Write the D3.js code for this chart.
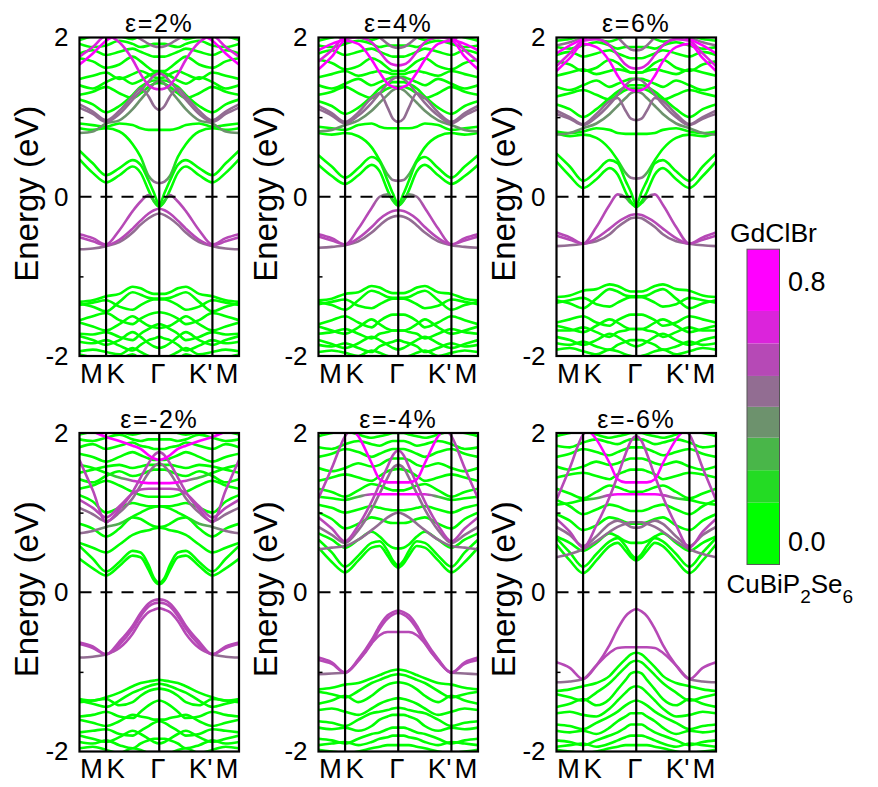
<!DOCTYPE html>
<html>
<head>
<meta charset="utf-8">
<script src="https://cdn.jsdelivr.net/npm/d3@7"></script>
<style>
  body { margin: 0; background: #fff; }
  text { font-family: "Liberation Sans", Arial, sans-serif; fill: #000; }
</style>
</head>
<body>
<svg id="chart" width="878" height="787"></svg>
<script>
// Path coordinate along M → K → Γ (M = 0, K = 1, Γ = 3).
// The Γ → K' → M leg is the time-reversed copy, E(k) = E(-k).
const kPath = [0, 0.5, 1, 1.5, 2, 2.3, 2.6, 2.8, 3];
const kTicks = [0, 1, 3, 5, 6];
const kLabels = ["M", "K", "Γ", "K'", "M"];
const energyTicks = [-2, 0, 2];
const minorTicks = [-1, 1];
const strainTitles = ["ε=2%", "ε=4%", "ε=6%", "ε=-2%", "ε=-4%", "ε=-6%"];

// GdClBr weight levels of the colour bar
const weightSteps = [0.12, 0.22, 0.32, 0.415, 0.51, 0.61, 0.71];
const weightColors = ["#00ff00", "#24db24", "#49b649", "#6d926d", "#926d92", "#b649b6", "#db24db", "#ff00ff"];
const weightTicks = [0.8, 0.0];
const weightRange = [-0.07, 0.9];

// Bands per strain: w = GdClBr weight (single value or one per k-point), e = energy (eV) at kPath
const strain2 = [
  {w: [0.55,0.55,0.55,0.55,0.55,0.55,0.5,0.2,0.05], e: [-0.47,-0.52,-0.60,-0.42,-0.18,-0.06,0.02,-0.05,-0.13]},
  {w: 0.55, e: [-0.51,-0.56,-0.61,-0.54,-0.40,-0.30,-0.21,-0.17,-0.15]},
  {w: 0.45, e: [-0.66,-0.65,-0.62,-0.57,-0.45,-0.35,-0.27,-0.23,-0.21]},
  {w: 0.05, e: [0.47,0.30,0.18,0.27,0.38,0.30,0.08,-0.06,-0.12]},
  {w: 0.05, e: [0.58,0.42,0.27,0.36,0.46,0.40,0.20,0.05,-0.10]},
  {w: [0.05,0.05,0.05,0.05,0.05,0.1,0.3,0.45,0.45], e: [0.86,0.84,0.86,0.82,0.66,0.50,0.26,0.19,0.17]},
  {w: 0.05, e: [0.92,0.90,0.88,0.92,0.90,0.86,0.84,0.84,0.84]},
  {w: 0.35, e: [0.80,0.82,0.92,0.96,1.10,1.22,1.34,1.42,1.46]},
  {w: [0.45,0.45,0.45,0.45,0.45,0.45,0.5,0.55,0.55], e: [1.12,1.04,0.94,1.04,1.22,1.33,1.45,1.52,1.55]},
  {w: 0.45, e: [1.16,1.07,0.96,1.08,1.26,1.36,1.26,1.14,1.09]},
  {w: 0.05, e: [1.22,1.16,1.06,1.14,1.28,1.38,1.44,1.46,1.46]},
  {w: 0.05, e: [1.28,1.32,1.38,1.30,1.24,1.30,1.38,1.42,1.43]},
  {w: 0.05, e: [1.40,1.36,1.44,1.50,1.42,1.46,1.52,1.55,1.56]},
  {w: 0.05, e: [1.48,1.52,1.56,1.48,1.54,1.58,1.54,1.50,1.49]},
  {w: 0.05, e: [1.74,1.70,1.62,1.66,1.76,1.70,1.62,1.58,1.58]},
  {w: 0.05, e: [1.80,1.84,1.78,1.82,1.86,1.82,1.78,1.76,1.76]},
  {w: 0.05, e: [1.92,1.88,1.90,1.96,1.92,1.88,1.90,1.92,1.92]},
  {w: 0.05, e: [1.97,2.02,2.06,2.02,1.98,2.02,2.06,2.08,2.08]},
  {w: 0.8,  e: [1.66,1.80,1.96,2.05,2.15,2.20,2.20,2.20,2.20]},
  {w: 0.7,  e: [1.76,1.88,2.02,1.94,1.72,1.54,1.40,1.36,1.35]},
  {w: 0.45, e: [2.20,2.12,2.05,2.02,2.02,1.98,1.92,1.89,1.88]},
  {w: 0.05, e: [-1.32,-1.30,-1.25,-1.22,-1.13,-1.15,-1.20,-1.22,-1.22]},
  {w: 0.05, e: [-1.34,-1.38,-1.44,-1.32,-1.20,-1.23,-1.27,-1.28,-1.28]},
  {w: 0.05, e: [-1.36,-1.33,-1.30,-1.38,-1.42,-1.36,-1.31,-1.29,-1.29]},
  {w: 0.05, e: [-1.55,-1.50,-1.46,-1.55,-1.60,-1.53,-1.48,-1.46,-1.45]},
  {w: 0.05, e: [-1.58,-1.63,-1.68,-1.60,-1.50,-1.56,-1.62,-1.64,-1.65]},
  {w: 0.05, e: [-1.72,-1.73,-1.70,-1.76,-1.80,-1.72,-1.66,-1.62,-1.60]},
  {w: 0.05, e: [-1.75,-1.80,-1.86,-1.80,-1.70,-1.76,-1.84,-1.88,-1.90]},
  {w: 0.05, e: [-1.82,-1.84,-1.80,-1.87,-1.93,-1.86,-1.80,-1.78,-1.76]},
  {w: 0.05, e: [-1.94,-1.92,-1.95,-1.98,-1.90,-1.95,-2.00,-2.02,-2.04]},
  {w: 0.05, e: [-1.98,-2.02,-2.06,-2.04,-1.98,-2.04,-2.10,-2.12,-2.12]}
];

const strain4 = [
  {w: [0.55,0.55,0.55,0.55,0.55,0.5,0.4,0.15,0.05], e: [-0.47,-0.52,-0.60,-0.40,-0.14,0.00,0.03,-0.04,-0.11]},
  {w: 0.55, e: [-0.50,-0.55,-0.60,-0.52,-0.38,-0.28,-0.21,-0.18,-0.17]},
  {w: 0.45, e: [-0.64,-0.63,-0.61,-0.56,-0.45,-0.36,-0.28,-0.25,-0.24]},
  {w: 0.05, e: [0.40,0.26,0.16,0.27,0.40,0.32,0.08,-0.05,-0.11]},
  {w: 0.05, e: [0.52,0.38,0.24,0.36,0.50,0.44,0.20,0.04,-0.09]},
  {w: [0.05,0.05,0.05,0.05,0.05,0.1,0.3,0.45,0.45], e: [0.80,0.78,0.80,0.76,0.62,0.46,0.28,0.21,0.20]},
  {w: 0.05, e: [0.88,0.86,0.84,0.90,0.92,0.88,0.86,0.86,0.86]},
  {w: 0.35, e: [0.82,0.84,0.90,0.96,1.08,1.18,1.28,1.34,1.36]},
  {w: 0.45, e: [1.10,1.02,0.92,1.02,1.18,1.30,1.42,1.48,1.50]},
  {w: 0.45, e: [1.14,1.05,0.94,1.06,1.24,1.30,1.12,0.98,0.94]},
  {w: 0.05, e: [1.20,1.14,1.04,1.12,1.26,1.36,1.42,1.44,1.44]},
  {w: 0.05, e: [1.28,1.32,1.38,1.30,1.24,1.30,1.36,1.38,1.38]},
  {w: 0.05, e: [1.40,1.36,1.42,1.48,1.40,1.44,1.48,1.50,1.50]},
  {w: 0.05, e: [1.50,1.54,1.58,1.52,1.56,1.58,1.56,1.54,1.54]},
  {w: 0.05, e: [1.72,1.68,1.60,1.64,1.74,1.70,1.62,1.58,1.58]},
  {w: 0.05, e: [1.80,1.84,1.78,1.82,1.86,1.82,1.78,1.76,1.76]},
  {w: 0.05, e: [1.90,1.88,1.92,1.96,1.92,1.88,1.90,1.90,1.90]},
  {w: 0.05, e: [1.96,2.00,2.04,2.00,1.97,2.00,2.04,2.06,2.06]},
  {w: 0.8,  e: [1.60,1.76,1.96,1.92,1.72,1.56,1.42,1.38,1.36]},
  {w: 0.7,  e: [1.70,1.84,2.00,2.00,1.94,1.82,1.70,1.66,1.65]},
  {w: 0.8,  e: [1.84,1.92,1.98,2.06,2.10,2.10,2.10,2.10,2.10]},
  {w: 0.45, e: [2.10,2.05,1.98,2.02,2.06,2.00,1.92,1.88,1.87]},
  {w: 0.05, e: [-1.30,-1.28,-1.22,-1.20,-1.12,-1.14,-1.19,-1.21,-1.21]},
  {w: 0.05, e: [-1.32,-1.36,-1.42,-1.30,-1.18,-1.21,-1.26,-1.27,-1.27]},
  {w: 0.05, e: [-1.35,-1.32,-1.29,-1.37,-1.40,-1.35,-1.30,-1.28,-1.28]},
  {w: 0.05, e: [-1.60,-1.55,-1.50,-1.58,-1.64,-1.56,-1.50,-1.48,-1.48]},
  {w: 0.05, e: [-1.63,-1.68,-1.72,-1.64,-1.54,-1.60,-1.66,-1.68,-1.68]},
  {w: 0.05, e: [-1.72,-1.70,-1.66,-1.72,-1.78,-1.72,-1.70,-1.68,-1.68]},
  {w: 0.05, e: [-1.80,-1.85,-1.90,-1.84,-1.76,-1.80,-1.86,-1.90,-1.92]},
  {w: 0.05, e: [-1.86,-1.88,-1.84,-1.90,-1.95,-1.88,-1.84,-1.82,-1.80]},
  {w: 0.05, e: [-1.95,-1.93,-1.96,-2.00,-1.93,-1.96,-2.00,-2.02,-2.04]}
];

const strain6 = [
  {w: [0.55,0.55,0.55,0.55,0.55,0.55,0.35,0.1,0.05], e: [-0.45,-0.51,-0.59,-0.38,-0.10,0.03,-0.01,-0.08,-0.13]},
  {w: 0.55, e: [-0.49,-0.54,-0.59,-0.52,-0.40,-0.32,-0.26,-0.23,-0.22]},
  {w: 0.45, e: [-0.62,-0.61,-0.59,-0.56,-0.47,-0.38,-0.31,-0.27,-0.26]},
  {w: 0.05, e: [0.44,0.26,0.11,0.22,0.36,0.28,0.06,-0.06,-0.12]},
  {w: 0.05, e: [0.54,0.38,0.20,0.32,0.46,0.42,0.20,0.06,-0.10]},
  {w: [0.05,0.05,0.05,0.05,0.05,0.1,0.3,0.45,0.45], e: [0.80,0.76,0.78,0.74,0.60,0.46,0.30,0.24,0.23]},
  {w: 0.05, e: [0.82,0.80,0.82,0.86,0.84,0.80,0.79,0.79,0.79]},
  {w: 0.35, e: [0.78,0.80,0.86,0.92,1.04,1.14,1.24,1.30,1.32]},
  {w: 0.45, e: [1.04,0.98,0.90,1.00,1.16,1.28,1.40,1.46,1.48]},
  {w: 0.45, e: [1.08,1.00,0.91,1.04,1.20,1.24,1.08,0.98,0.96]},
  {w: 0.05, e: [1.16,1.10,1.00,1.10,1.24,1.32,1.38,1.40,1.40]},
  {w: 0.05, e: [1.26,1.30,1.34,1.28,1.22,1.28,1.34,1.36,1.36]},
  {w: 0.05, e: [1.38,1.34,1.40,1.46,1.38,1.42,1.46,1.48,1.48]},
  {w: 0.05, e: [1.52,1.56,1.60,1.54,1.58,1.60,1.58,1.56,1.56]},
  {w: 0.05, e: [1.70,1.66,1.58,1.62,1.72,1.68,1.60,1.56,1.56]},
  {w: 0.05, e: [1.78,1.82,1.76,1.80,1.84,1.80,1.76,1.74,1.74]},
  {w: 0.05, e: [1.88,1.86,1.90,1.94,1.90,1.86,1.88,1.88,1.88]},
  {w: 0.05, e: [1.96,1.98,2.02,1.98,1.95,1.98,2.02,2.04,2.04]},
  {w: 0.8,  e: [1.58,1.74,1.92,1.88,1.70,1.52,1.38,1.34,1.33]},
  {w: 0.7,  e: [1.64,1.80,1.96,1.98,1.90,1.78,1.66,1.62,1.61]},
  {w: 0.8,  e: [1.80,1.90,1.98,2.04,2.08,2.10,2.10,2.10,2.10]},
  {w: 0.45, e: [1.90,1.94,2.00,2.04,2.06,2.00,1.90,1.85,1.84]},
  {w: 0.05, e: [-1.26,-1.24,-1.18,-1.16,-1.10,-1.12,-1.17,-1.19,-1.19]},
  {w: 0.05, e: [-1.30,-1.34,-1.40,-1.28,-1.16,-1.19,-1.24,-1.25,-1.25]},
  {w: 0.05, e: [-1.33,-1.30,-1.27,-1.35,-1.38,-1.33,-1.28,-1.26,-1.26]},
  {w: 0.05, e: [-1.58,-1.54,-1.50,-1.58,-1.62,-1.55,-1.50,-1.48,-1.48]},
  {w: 0.05, e: [-1.62,-1.66,-1.70,-1.62,-1.54,-1.58,-1.64,-1.66,-1.66]},
  {w: 0.05, e: [-1.68,-1.68,-1.64,-1.70,-1.76,-1.70,-1.68,-1.66,-1.66]},
  {w: 0.05, e: [-1.76,-1.80,-1.86,-1.80,-1.72,-1.76,-1.82,-1.86,-1.88]},
  {w: 0.05, e: [-1.84,-1.86,-1.82,-1.88,-1.92,-1.86,-1.82,-1.80,-1.80]},
  {w: 0.05, e: [-1.92,-1.90,-1.94,-1.98,-1.92,-1.94,-1.98,-2.00,-2.02]}
];

const strainM2 = [
  {w: 0.55, e: [-0.63,-0.68,-0.78,-0.62,-0.42,-0.26,-0.14,-0.10,-0.09]},
  {w: 0.55, e: [-0.65,-0.70,-0.78,-0.66,-0.46,-0.30,-0.18,-0.14,-0.13]},
  {w: [0.45,0.45,0.5,0.55,0.55,0.55,0.55,0.55,0.55], e: [-0.82,-0.81,-0.78,-0.70,-0.52,-0.36,-0.25,-0.22,-0.20]},
  {w: 0.05, e: [0.42,0.30,0.21,0.33,0.46,0.44,0.28,0.15,0.10]},
  {w: 0.05, e: [0.58,0.42,0.26,0.38,0.52,0.50,0.34,0.18,0.12]},
  {w: 0.05, e: [0.62,0.56,0.50,0.60,0.72,0.76,0.78,0.80,0.81]},
  {w: 0.05, e: [0.86,0.80,0.70,0.80,0.94,0.92,0.86,0.83,0.82]},
  {w: [0.45,0.45,0.4,0.3,0.1,0.05,0.05,0.05,0.05], e: [0.74,0.77,0.82,0.86,0.95,1.00,1.05,1.07,1.08]},
  {w: 0.55, e: [1.66,1.28,0.88,1.04,1.26,1.44,1.62,1.72,1.76]},
  {w: 0.45, e: [1.06,0.98,0.89,1.00,1.18,1.34,1.50,1.58,1.62]},
  {w: 0.55, e: [1.16,1.06,0.94,1.08,1.24,1.29,1.30,1.30,1.30]},
  {w: [0.05,0.05,0.05,0.3,0.6,0.8,0.8,0.8,0.8], e: [1.60,1.56,1.50,1.44,1.40,1.38,1.37,1.37,1.37]},
  {w: 0.75, e: [2.10,2.02,1.95,1.90,1.84,1.80,1.72,1.68,1.66]},
  {w: 0.05, e: [1.22,1.14,1.00,1.06,1.12,1.10,1.08,1.08,1.08]},
  {w: 0.05, e: [1.30,1.34,1.40,1.34,1.26,1.22,1.20,1.20,1.20]},
  {w: 0.05, e: [1.42,1.38,1.46,1.52,1.46,1.48,1.52,1.54,1.54]},
  {w: 0.05, e: [1.50,1.54,1.58,1.60,1.56,1.58,1.60,1.60,1.60]},
  {w: 0.05, e: [1.74,1.70,1.64,1.70,1.76,1.72,1.68,1.66,1.66]},
  {w: 0.05, e: [1.82,1.86,1.80,1.84,1.88,1.84,1.82,1.80,1.80]},
  {w: 0.05, e: [1.92,1.90,1.94,1.98,1.92,1.90,1.92,1.92,1.92]},
  {w: 0.05, e: [1.98,2.02,2.06,2.02,1.98,2.00,2.04,2.06,2.06]},
  {w: 0.05, e: [-1.34,-1.36,-1.32,-1.26,-1.18,-1.14,-1.12,-1.11,-1.10]},
  {w: 0.05, e: [-1.36,-1.40,-1.44,-1.36,-1.26,-1.22,-1.18,-1.16,-1.15]},
  {w: 0.05, e: [-1.38,-1.36,-1.34,-1.42,-1.38,-1.30,-1.24,-1.22,-1.21]},
  {w: 0.05, e: [-1.56,-1.54,-1.50,-1.56,-1.58,-1.50,-1.42,-1.38,-1.36]},
  {w: 0.05, e: [-1.60,-1.64,-1.68,-1.62,-1.54,-1.56,-1.58,-1.60,-1.60]},
  {w: 0.05, e: [-1.76,-1.74,-1.72,-1.78,-1.80,-1.74,-1.68,-1.64,-1.62]},
  {w: 0.05, e: [-1.80,-1.84,-1.88,-1.82,-1.74,-1.78,-1.84,-1.88,-1.90]},
  {w: 0.05, e: [-1.88,-1.90,-1.86,-1.92,-1.96,-1.90,-1.86,-1.84,-1.84]},
  {w: 0.05, e: [-1.96,-1.94,-1.98,-2.02,-1.96,-1.98,-2.02,-2.04,-2.06]}
];

const strainM4 = [
  {w: 0.55, e: [-0.82,-0.88,-1.01,-0.84,-0.60,-0.42,-0.29,-0.25,-0.23]},
  {w: 0.55, e: [-0.85,-0.90,-1.01,-0.86,-0.64,-0.46,-0.33,-0.28,-0.26]},
  {w: [0.45,0.45,0.5,0.55,0.55,0.55,0.55,0.55,0.55], e: [-1.03,-1.02,-1.01,-0.86,-0.64,-0.54,-0.50,-0.50,-0.50]},
  {w: 0.05, e: [0.56,0.38,0.25,0.40,0.56,0.58,0.46,0.36,0.31]},
  {w: 0.05, e: [0.66,0.50,0.32,0.46,0.62,0.64,0.52,0.40,0.34]},
  {w: 0.05, e: [0.74,0.66,0.56,0.66,0.76,0.70,0.60,0.56,0.55]},
  {w: 0.45, e: [0.54,0.56,0.58,0.66,0.78,0.86,0.94,0.98,1.00]},
  {w: 0.55, e: [0.94,0.80,0.64,0.84,1.14,1.36,1.58,1.72,1.78]},
  {w: 0.45, e: [0.82,0.72,0.62,0.78,1.04,1.24,1.44,1.56,1.60]},
  {w: 0.55, e: [1.18,1.56,1.96,2.10,2.20,2.20,2.20,2.20,2.20]},
  {w: 0.8,  e: [2.30,2.20,2.10,1.96,1.62,1.42,1.38,1.38,1.38]},
  {w: [0.05,0.05,0.05,0.3,0.7,0.8,0.8,0.8,0.8], e: [1.20,1.18,1.16,1.20,1.23,1.23,1.23,1.23,1.23]},
  {w: 0.05, e: [1.00,0.92,0.80,0.86,0.94,0.92,0.88,0.87,0.87]},
  {w: 0.05, e: [1.10,1.06,1.00,1.04,1.08,1.06,1.04,1.03,1.03]},
  {w: 0.05, e: [1.30,1.26,1.20,1.28,1.36,1.34,1.30,1.28,1.28]},
  {w: 0.05, e: [1.40,1.44,1.48,1.44,1.40,1.46,1.52,1.54,1.55]},
  {w: 0.05, e: [1.56,1.52,1.56,1.62,1.58,1.60,1.66,1.68,1.68]},
  {w: 0.05, e: [1.70,1.74,1.80,1.76,1.70,1.74,1.78,1.80,1.80]},
  {w: 0.05, e: [1.82,1.80,1.86,1.90,1.86,1.84,1.88,1.90,1.90]},
  {w: 0.05, e: [1.96,2.00,2.02,1.98,1.94,1.96,1.98,2.00,2.00]},
  {w: 0.05, e: [-1.22,-1.20,-1.16,-1.14,-1.08,-1.04,-1.00,-0.98,-0.97]},
  {w: 0.05, e: [-1.25,-1.28,-1.32,-1.24,-1.14,-1.10,-1.06,-1.04,-1.03]},
  {w: 0.05, e: [-1.40,-1.36,-1.30,-1.38,-1.30,-1.22,-1.16,-1.14,-1.13]},
  {w: 0.05, e: [-1.48,-1.46,-1.50,-1.54,-1.46,-1.40,-1.36,-1.34,-1.33]},
  {w: 0.05, e: [-1.62,-1.64,-1.68,-1.60,-1.52,-1.50,-1.48,-1.46,-1.45]},
  {w: 0.05, e: [-1.70,-1.72,-1.70,-1.74,-1.68,-1.60,-1.56,-1.54,-1.54]},
  {w: 0.05, e: [-1.84,-1.86,-1.90,-1.84,-1.78,-1.76,-1.72,-1.70,-1.70]},
  {w: 0.05, e: [-1.92,-1.90,-1.88,-1.92,-1.88,-1.84,-1.82,-1.80,-1.80]},
  {w: 0.05, e: [-1.98,-2.00,-2.02,-2.00,-1.96,-1.94,-1.92,-1.92,-1.92]}
];

const strainM6 = [
  {w: 0.55, e: [-0.88,-0.95,-1.09,-0.92,-0.66,-0.46,-0.30,-0.24,-0.21]},
  {w: [0.45,0.45,0.5,0.55,0.55,0.55,0.55,0.55,0.55], e: [-1.13,-1.12,-1.09,-0.92,-0.76,-0.70,-0.69,-0.69,-0.69]},
  {w: 0.05, e: [0.60,0.40,0.24,0.40,0.58,0.62,0.52,0.44,0.40]},
  {w: 0.05, e: [0.68,0.50,0.32,0.48,0.64,0.68,0.58,0.48,0.43]},
  {w: 0.05, e: [0.70,0.62,0.52,0.62,0.74,0.70,0.64,0.62,0.62]},
  {w: 0.45, e: [0.44,0.48,0.54,0.64,0.76,0.82,0.86,0.88,0.88]},
  {w: 0.55, e: [0.92,0.76,0.56,0.84,1.20,1.46,1.74,1.90,1.96]},
  {w: 0.45, e: [0.82,0.72,0.58,0.70,0.86,0.90,0.86,0.82,0.81]},
  {w: 0.55, e: [1.16,1.56,1.98,2.10,2.20,2.20,2.20,2.20,2.20]},
  {w: 0.8,  e: [2.30,2.20,2.10,1.92,1.62,1.42,1.38,1.38,1.38]},
  {w: [0.05,0.05,0.05,0.3,0.7,0.8,0.8,0.8,0.8], e: [1.10,1.12,1.16,1.18,1.22,1.23,1.23,1.23,1.23]},
  {w: 0.05, e: [0.98,0.90,0.78,0.84,0.94,0.92,0.88,0.86,0.86]},
  {w: 0.05, e: [1.16,1.08,0.98,1.04,1.10,1.08,1.04,1.02,1.02]},
  {w: 0.05, e: [1.30,1.24,1.18,1.26,1.34,1.32,1.28,1.26,1.26]},
  {w: 0.05, e: [1.44,1.48,1.50,1.46,1.42,1.48,1.52,1.54,1.54]},
  {w: 0.05, e: [1.58,1.54,1.58,1.64,1.60,1.62,1.66,1.68,1.68]},
  {w: 0.05, e: [1.70,1.74,1.80,1.76,1.72,1.76,1.80,1.82,1.82]},
  {w: 0.05, e: [1.84,1.82,1.88,1.92,1.88,1.86,1.90,1.92,1.92]},
  {w: 0.05, e: [1.96,2.00,2.02,1.98,1.94,1.96,1.98,2.00,2.00]},
  {w: 0.05, e: [-1.24,-1.22,-1.18,-1.14,-1.05,-0.94,-0.84,-0.78,-0.76]},
  {w: 0.05, e: [-1.28,-1.32,-1.36,-1.26,-1.14,-1.04,-0.94,-0.88,-0.86]},
  {w: 0.05, e: [-1.44,-1.40,-1.34,-1.42,-1.34,-1.22,-1.10,-1.02,-1.00]},
  {w: 0.05, e: [-1.52,-1.50,-1.54,-1.56,-1.46,-1.36,-1.26,-1.20,-1.18]},
  {w: 0.05, e: [-1.66,-1.68,-1.72,-1.64,-1.56,-1.50,-1.42,-1.38,-1.36]},
  {w: 0.05, e: [-1.74,-1.76,-1.74,-1.78,-1.70,-1.62,-1.56,-1.52,-1.52]},
  {w: 0.05, e: [-1.86,-1.88,-1.92,-1.86,-1.80,-1.76,-1.70,-1.66,-1.66]},
  {w: 0.05, e: [-1.94,-1.92,-1.90,-1.94,-1.90,-1.86,-1.82,-1.80,-1.80]},
  {w: 0.05, e: [-1.98,-2.00,-2.02,-2.00,-1.96,-1.94,-1.92,-1.92,-1.92]}
];

const panelBands = [strain2, strain4, strain6, strainM2, strainM4, strainM6];

// ---------- layout ----------
const svg = d3.select("#chart");
const W = 159.5, H = 318.5;
const panelLeft = [79.5, 318.5, 556.5, 79.5, 318.5, 556.5];
const panelTop = [37.5, 37.5, 37.5, 433, 433, 433];

const x = d3.scaleLinear().domain([0, 6]).range([0, W]);
const y = d3.scaleLinear().domain([-2, 2]).range([H, 0]);
const color = d3.scaleThreshold().domain(weightSteps).range(weightColors);
const line = d3.line().x(d => x(d[0])).y(d => y(d[1])).curve(d3.curveMonotoneX);

const defs = svg.append("defs");
defs.append("clipPath").attr("id", "frameClip")
  .append("rect").attr("x", 0).attr("y", 0).attr("width", W).attr("height", H);

// Full M → K → Γ → K' → M path of one band: [k, energy, weight]
function bandPath(band) {
  const ws = Array.isArray(band.w) ? band.w : kPath.map(() => band.w);
  const out = kPath.map((k, i) => [k, band.e[i], ws[i]]);
  for (let i = kPath.length - 2; i >= 0; i--) out.push([6 - kPath[i], band.e[i], ws[i]]);
  return out;
}
const meanW = b => Array.isArray(b.w) ? d3.mean(b.w) : b.w;

panelBands.forEach((bands, p) => {
  const g = svg.append("g").attr("transform", `translate(${panelLeft[p]},${panelTop[p]})`);
  const plot = g.append("g").attr("clip-path", "url(#frameClip)");

  const sorted = bands.slice().sort((a, b) => meanW(a) - meanW(b));
  sorted.forEach((band, i) => {
    const pts = bandPath(band);
    let stroke;
    if (Array.isArray(band.w)) {
      const id = `bandGrad${p}_${i}`;
      const grad = defs.append("linearGradient").attr("id", id)
        .attr("gradientUnits", "userSpaceOnUse")
        .attr("x1", 0).attr("y1", 0).attr("x2", W).attr("y2", 0);
      pts.forEach(d => grad.append("stop")
        .attr("offset", d[0] / 6).attr("stop-color", color(d[2])));
      stroke = `url(#${id})`;
    } else {
      stroke = color(band.w);
    }
    plot.append("path").attr("d", line(pts))
      .attr("fill", "none").attr("stroke", stroke)
      .attr("stroke-width", 2.6).attr("stroke-linejoin", "round");
  });

  // Fermi level
  g.append("line").attr("x1", 0).attr("x2", W).attr("y1", y(0)).attr("y2", y(0))
    .attr("stroke", "#000").attr("stroke-width", 2).attr("stroke-dasharray", "12,9");

  // high-symmetry lines
  g.selectAll(".ksym").data(kTicks.slice(1, -1)).enter().append("line")
    .attr("x1", d => x(d)).attr("x2", d => x(d)).attr("y1", 0).attr("y2", H)
    .attr("stroke", "#000").attr("stroke-width", 2.2);

  // frame
  g.append("rect").attr("x", 0).attr("y", 0).attr("width", W).attr("height", H)
    .attr("fill", "none").attr("stroke", "#000").attr("stroke-width", 2.2);

  // energy axis
  const ya = g.append("g").call(d3.axisLeft(y).tickValues(energyTicks).tickSize(0).tickPadding(11)
    .tickFormat(d => String(d)));
  ya.select(".domain").remove();
  ya.selectAll("text").attr("font-size", 26).attr("font-family", '"Liberation Sans", Arial, sans-serif');
  const ym = g.append("g").call(d3.axisRight(y).tickValues(minorTicks).tickSize(4).tickFormat(""));
  ym.select(".domain").remove();
  ym.selectAll("line").attr("stroke", "#000").attr("stroke-width", 1.5);

  g.append("text")
    .attr("transform", `translate(-41.5,${H / 2 - 3}) rotate(-90)`)
    .attr("text-anchor", "middle").attr("font-size", 33)
    .text("Energy (eV)");

  // k-path labels
  const anchors = ["start", "start", "middle", "end", "end"];
  const shifts = [0.5, 0.5, -1.5, 0, -0.5];
  g.selectAll(".klab").data(kLabels).enter().append("text")
    .attr("x", (d, i) => x(kTicks[i]) + shifts[i])
    .attr("y", H + 26.5)
    .attr("text-anchor", (d, i) => anchors[i])
    .attr("font-size", 27.5)
    .text(d => d);

  // strain title
  g.append("text").attr("x", W / 2).attr("y", -5.5)
    .attr("text-anchor", "middle").attr("font-size", 25).attr("letter-spacing", 1.6)
    .text(strainTitles[p]);
});

// ---------- colour bar ----------
const cbX = 747, cbW = 32.5;
const cbY = d3.scaleLinear().domain([0, 0.8]).range([541.7, 281.7]);
const edges = [weightRange[0], ...weightSteps, weightRange[1]];
const cb = svg.append("g");
cb.selectAll("rect.level").data(weightColors).enter().append("rect")
  .attr("x", cbX).attr("width", cbW)
  .attr("y", (d, i) => cbY(edges[i + 1]))
  .attr("height", (d, i) => cbY(edges[i]) - cbY(edges[i + 1]))
  .attr("fill", d => d);
cb.append("rect").attr("x", cbX).attr("width", cbW)
  .attr("y", cbY(weightRange[1])).attr("height", cbY(weightRange[0]) - cbY(weightRange[1]))
  .attr("fill", "none").attr("stroke", "#555").attr("stroke-width", 1);
cb.selectAll("text.tick").data(weightTicks).enter().append("text")
  .attr("x", 788).attr("y", d => cbY(d)).attr("dy", "0.35em")
  .attr("font-size", 27).text(d => d3.format(".1f")(d));
cb.append("text").attr("x", 730).attr("y", 242).attr("font-size", 26.5).text("GdClBr");
const sub = cb.append("text").attr("x", 726.5).attr("y", 593.3).attr("font-size", 26);
sub.append("tspan").text("CuBiP");
sub.append("tspan").attr("font-size", 19).attr("dy", 9.5).text("2");
sub.append("tspan").attr("dy", -9.5).text("Se");
sub.append("tspan").attr("font-size", 19).attr("dy", 9.5).text("6");
</script>
</body>
</html>
